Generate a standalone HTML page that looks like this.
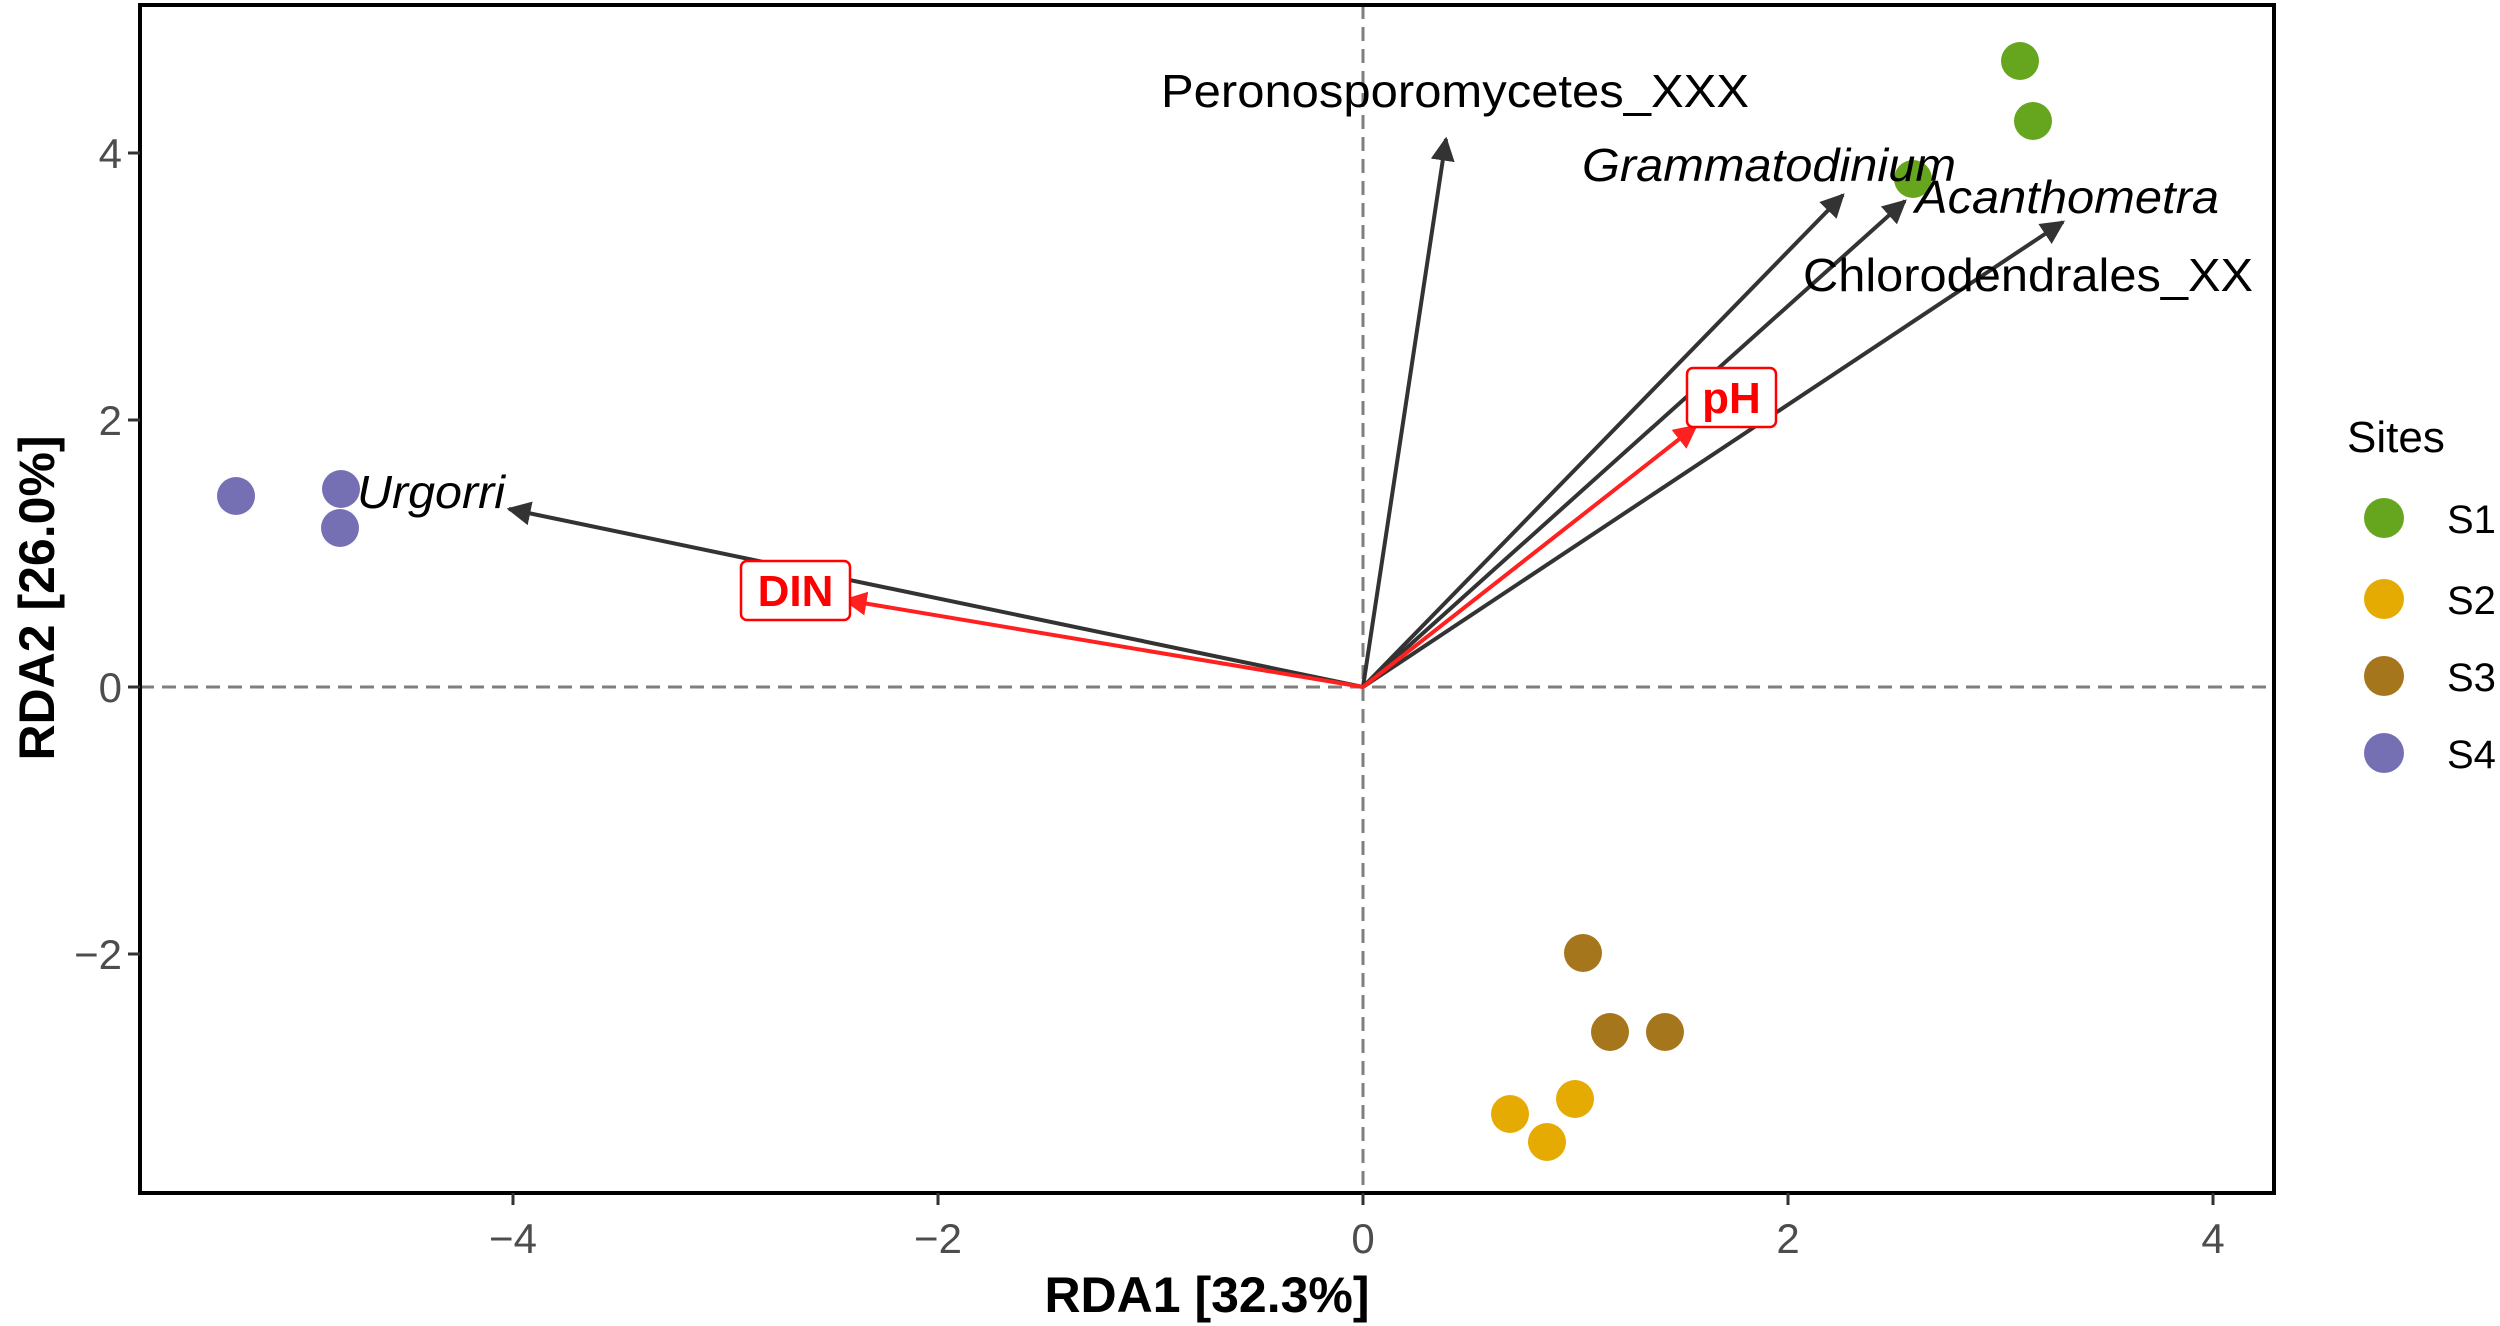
<!DOCTYPE html>
<html><head><meta charset="utf-8"><style>html,body{margin:0;padding:0;background:#fff}svg{display:block}</style></head>
<body>
<svg width="2500" height="1326" viewBox="0 0 2500 1326" xmlns="http://www.w3.org/2000/svg" font-family="Liberation Sans, Arial, sans-serif">
<defs>
<marker id="ak" viewBox="0 0 10 10" refX="9" refY="5" markerWidth="6" markerHeight="6" orient="auto" markerUnits="strokeWidth"><path d="M0,0 L10,5 L0,10 z" fill="#333"/></marker>
<marker id="ar" viewBox="0 0 10 10" refX="9" refY="5" markerWidth="6" markerHeight="6" orient="auto" markerUnits="strokeWidth"><path d="M0,0 L10,5 L0,10 z" fill="#ff2020"/></marker>
</defs>
<rect width="2500" height="1326" fill="#fff"/>
<line x1="140" y1="687" x2="2274" y2="687" stroke="#7f7f7f" stroke-width="3" stroke-dasharray="14,8"/>
<line x1="1363" y1="5" x2="1363" y2="1193" stroke="#7f7f7f" stroke-width="3" stroke-dasharray="14,8"/>
<g>
<circle cx="236" cy="496" r="19" fill="#7570b3"/><circle cx="341" cy="489" r="19" fill="#7570b3"/><circle cx="340" cy="528" r="19" fill="#7570b3"/>
<circle cx="2020" cy="61" r="19" fill="#66a61e"/><circle cx="2033" cy="121" r="19" fill="#66a61e"/><circle cx="1913" cy="179" r="19" fill="#66a61e"/>
<circle cx="1583" cy="953" r="19" fill="#a6761d"/><circle cx="1610" cy="1032" r="19" fill="#a6761d"/><circle cx="1665" cy="1032" r="19" fill="#a6761d"/>
<circle cx="1575" cy="1099" r="19" fill="#e6ab02"/><circle cx="1510" cy="1114" r="19" fill="#e6ab02"/><circle cx="1547" cy="1142" r="19" fill="#e6ab02"/>
</g>
<g stroke="#333" stroke-width="4" fill="none">
<line x1="1363" y1="687" x2="509" y2="509" marker-end="url(#ak)"/>
<line x1="1363" y1="687" x2="1446" y2="139" marker-end="url(#ak)"/>
<line x1="1363" y1="687" x2="1843" y2="195" marker-end="url(#ak)"/>
<line x1="1363" y1="687" x2="1905" y2="201" marker-end="url(#ak)"/>
<line x1="1363" y1="687" x2="2063" y2="222" marker-end="url(#ak)"/>
</g>
<g stroke="#ff2020" stroke-width="4" fill="none">
<line x1="1363" y1="687" x2="845" y2="600" marker-end="url(#ar)"/>
<line x1="1363" y1="687" x2="1696" y2="426" marker-end="url(#ar)"/>
</g>
<g font-size="46" fill="#000">
<text x="1161" y="107" textLength="588" lengthAdjust="spacingAndGlyphs">Peronosporomycetes_XXX</text>
<text x="1582" y="181" font-style="italic" textLength="374" lengthAdjust="spacingAndGlyphs">Grammatodinium</text>
<text x="1915" y="213" font-style="italic" textLength="304" lengthAdjust="spacingAndGlyphs">Acanthometra</text>
<text x="1803" y="291" textLength="450" lengthAdjust="spacingAndGlyphs">Chlorodendrales_XX</text>
<text x="357" y="508" font-style="italic" textLength="148" lengthAdjust="spacingAndGlyphs">Urgorri</text>
</g>
<rect x="741" y="561" width="109" height="59" rx="6" fill="#fff" stroke="#ff0000" stroke-width="2.5"/>
<text x="795.5" y="606" font-size="44" font-weight="bold" fill="#ff0000" text-anchor="middle">DIN</text>
<rect x="1687" y="368" width="89" height="59" rx="6" fill="#fff" stroke="#ff0000" stroke-width="2.5"/>
<text x="1731.5" y="413" font-size="44" font-weight="bold" fill="#ff0000" text-anchor="middle">pH</text>
<rect x="140" y="5" width="2134" height="1188" fill="none" stroke="#000" stroke-width="4"/>
<g stroke="#333" stroke-width="3">
<line x1="513" y1="1193" x2="513" y2="1205"/><line x1="938" y1="1193" x2="938" y2="1205"/><line x1="1363" y1="1193" x2="1363" y2="1205"/><line x1="1788" y1="1193" x2="1788" y2="1205"/><line x1="2213" y1="1193" x2="2213" y2="1205"/>
<line x1="128" y1="153" x2="140" y2="153"/><line x1="128" y1="420" x2="140" y2="420"/><line x1="128" y1="687" x2="140" y2="687"/><line x1="128" y1="954" x2="140" y2="954"/>
</g>
<g font-size="42" fill="#4d4d4d" text-anchor="middle">
<text x="513" y="1253">−4</text><text x="938" y="1253">−2</text><text x="1363" y="1253">0</text><text x="1788" y="1253">2</text><text x="2213" y="1253">4</text>
</g>
<g font-size="42" fill="#4d4d4d" text-anchor="end">
<text x="122" y="168">4</text><text x="122" y="435">2</text><text x="122" y="702">0</text><text x="122" y="969">−2</text>
</g>
<text x="1207" y="1312" font-size="50" font-weight="bold" text-anchor="middle">RDA1 [32.3%]</text>
<text transform="translate(54,598) rotate(-90)" font-size="50" font-weight="bold" text-anchor="middle">RDA2 [26.0%]</text>
<text x="2347" y="452" font-size="44" fill="#000">Sites</text>
<circle cx="2384" cy="518" r="20" fill="#66a61e"/><text x="2447" y="533" font-size="40">S1</text>
<circle cx="2384" cy="599" r="20" fill="#e6ab02"/><text x="2447" y="614" font-size="40">S2</text>
<circle cx="2384" cy="676" r="20" fill="#a6761d"/><text x="2447" y="691" font-size="40">S3</text>
<circle cx="2384" cy="753" r="20" fill="#7570b3"/><text x="2447" y="768" font-size="40">S4</text>
</svg>
</body></html>
